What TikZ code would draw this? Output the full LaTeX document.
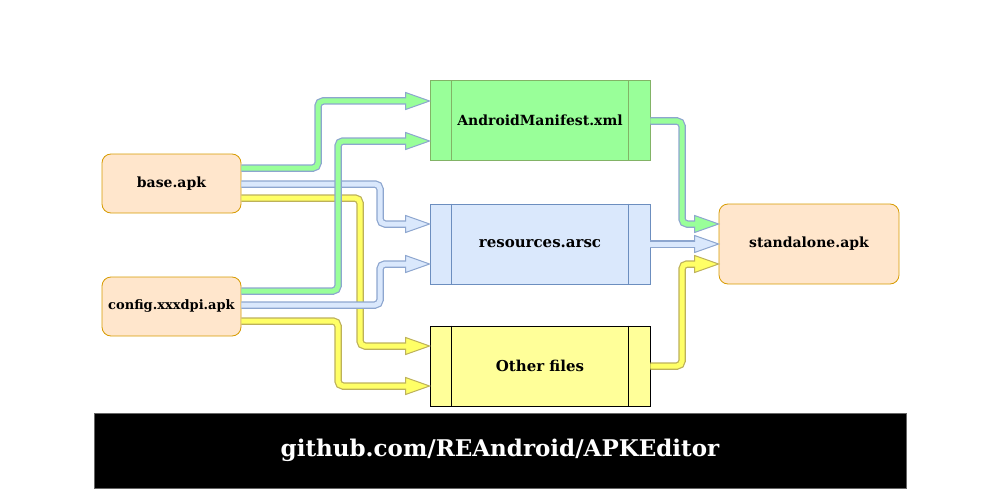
\documentclass[tikz,border=0pt]{standalone}
\usepackage{fontspec}
\setmainfont{DejaVu Serif}
\usetikzlibrary{calc}
\definecolor{orfill}{HTML}{FFE6CC}
\definecolor{ordraw}{HTML}{D79B00}
\definecolor{grfill}{HTML}{99FF99}
\definecolor{grdraw}{HTML}{82B366}
\definecolor{blfill}{HTML}{DAE8FC}
\definecolor{bldraw}{HTML}{6C8EBF}
\definecolor{yefill}{HTML}{FFFF99}
\definecolor{ayfill}{HTML}{FFFF66}
\definecolor{abdraw}{HTML}{8DA6CF}
\definecolor{aydraw}{HTML}{BDB15A}
\tikzset{
  apk/.style={draw=ordraw, fill=orfill, rounded corners=9, line width=0.8,
    minimum width=139, minimum height=59, font=\fontsize{14}{16}\selectfont\bfseries},
  proc/.style={rectangle, line width=0.8, minimum width=220, minimum height=80,
    font=\fontsize{15}{17}\selectfont\bfseries},
  gborder/.style={draw=abdraw}, gfill/.style={draw=grfill}, ghead/.style={fill=grfill, draw=abdraw, line width=1},
  bborder/.style={draw=abdraw}, bfill/.style={draw=blfill}, bhead/.style={fill=blfill, draw=abdraw, line width=1},
  yborder/.style={draw=aydraw}, yfill/.style={draw=ayfill}, yhead/.style={fill=ayfill, draw=aydraw, line width=1},
}
\newcommand\flexarr[3]{%
  \path #3 coordinate (tmpend);
  \draw[#1border, line width=7.5, rounded corners=5, shorten >=22] #2 -- (tmpend);
  \filldraw[#1head, line join=miter] ($(tmpend)+(-24,-8.5)$) -- (tmpend) -- ($(tmpend)+(-24,8.5)$) -- cycle;
  \draw[#1fill, line width=5, rounded corners=5, shorten >=20.5] #2 -- (tmpend);
}
\begin{document}
\begin{tikzpicture}[x=1pt, y=-1pt]
\useasboundingbox (0,0) rectangle (1000,500);
\node[apk] (base) at (171.5,183.5) {base.apk};
\node[apk, font=\fontsize{13}{15}\selectfont\bfseries] (config) at (171.5,306.5) {config.xxxdpi.apk};
\node[apk, minimum width=180, minimum height=80] (standalone) at (809,244) {standalone.apk};
\node[proc, draw=grdraw, fill=grfill, font=\fontsize{14}{16}\selectfont\bfseries] (manifest) at (540,120.5) {AndroidManifest.xml};
\draw[grdraw, line width=0.8] ($(manifest.north west)+(22,0)$) -- ($(manifest.south west)+(22,0)$);
\draw[grdraw, line width=0.8] ($(manifest.north east)+(-22,0)$) -- ($(manifest.south east)+(-22,0)$);
\node[proc, draw=bldraw, fill=blfill] (resources) at (540,244) {resources.arsc};
\draw[bldraw, line width=0.8] ($(resources.north west)+(22,0)$) -- ($(resources.south west)+(22,0)$);
\draw[bldraw, line width=0.8] ($(resources.north east)+(-22,0)$) -- ($(resources.south east)+(-22,0)$);
\node[proc, draw=black, fill=yefill] (other) at (540,366) {Other files};
\draw[black, line width=0.8] ($(other.north west)+(22,0)$) -- ($(other.south west)+(22,0)$);
\draw[black, line width=0.8] ($(other.north east)+(-22,0)$) -- ($(other.south east)+(-22,0)$);
% arrows from base
\flexarr{g}{(base.east |- 0,168) -| (318,101)}{(manifest.west |- 0,101)}
\flexarr{b}{(base.east |- 0,184) -| (380,224)}{(resources.west |- 0,224)}
\flexarr{y}{(base.east |- 0,198) -| (360,346)}{(other.west |- 0,346)}
% arrows from config
\flexarr{g}{(config.east |- 0,291) -| (338,141)}{(manifest.west |- 0,141)}
\flexarr{b}{(config.east |- 0,305) -| (380,264)}{(resources.west |- 0,264)}
\flexarr{y}{(config.east |- 0,321) -| (338,386)}{(other.west |- 0,386)}
% arrows to standalone
\flexarr{g}{(manifest.east |- 0,121) -| (682,224)}{(standalone.west |- 0,224)}
\flexarr{b}{(resources.east |- 0,244)}{(standalone.west |- 0,244)}
\flexarr{y}{(other.east |- 0,366) -| (682,264)}{(standalone.west |- 0,264)}
% banner
\node[fill=black, draw=black!60, line width=0.8, minimum width=812, minimum height=75, text=white,
  font=\fontsize{23}{26}\selectfont\bfseries] (banner) at (500,450.5) {github.com/REAndroid/APKEditor};
\end{tikzpicture}
\end{document}
